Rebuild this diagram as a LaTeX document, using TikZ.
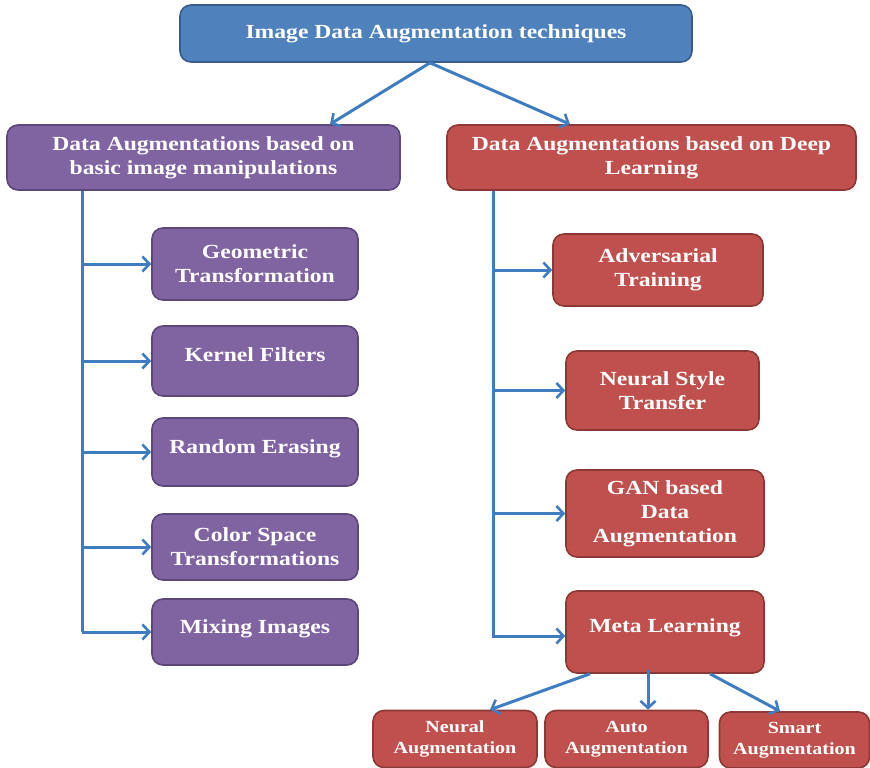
\documentclass[tikz,border=0pt]{standalone}
\usepackage{fontspec}
\setmainfont{Liberation Serif}[FakeStretch=1.18]
\usetikzlibrary{arrows.meta}
\definecolor{bfill}{HTML}{4F81BD}
\definecolor{bline}{HTML}{385D8A}
\definecolor{pfill}{HTML}{8064A2}
\definecolor{pline}{HTML}{5C4776}
\definecolor{rfill}{HTML}{C0504D}
\definecolor{rline}{HTML}{8C3836}
\definecolor{arrc}{HTML}{3F7CC0}
\begin{document}
\begin{tikzpicture}[x=1pt,y=-1pt,
  box/.style={rectangle,rounded corners=11pt,line width=1.6pt,text=white,align=center,
    inner sep=2pt,font=\fontsize{20}{24}\selectfont\bfseries},
  bluebox/.style={box,fill=bfill,draw=bline},
  purbox/.style={box,fill=pfill,draw=pline},
  redbox/.style={box,fill=rfill,draw=rline},
  smallred/.style={redbox,font=\fontsize{17}{21}\selectfont\bfseries},
  arr/.style={draw=arrc,line width=3pt,-{Straight Barb[length=7pt,width=15pt,line width=2.6pt]}},
  ln/.style={draw=arrc,line width=3pt}]
\useasboundingbox (0,0) rectangle (870,768);
\node[bluebox,minimum width=512pt,minimum height=57pt] (top) at (436,33.5) {Image Data Augmentation techniques};
\node[purbox,minimum width=393pt,minimum height=65pt] (L) at (203.5,157.5) {Data Augmentations based on\\basic image manipulations};
\node[redbox,minimum width=409pt,minimum height=65pt] (R) at (651.5,157.5) {Data Augmentations based on Deep\\Learning};
\node[purbox,minimum width=206pt,minimum height=72pt] (g1) at (255,264) {Geometric\\Transformation};
\node[purbox,minimum width=206pt,minimum height=70pt,text depth=12pt] (g2) at (255,361) {Kernel Filters};
\node[purbox,minimum width=206pt,minimum height=68pt,text depth=10pt] (g3) at (255,452) {Random Erasing};
\node[purbox,minimum width=206pt,minimum height=66pt] (g4) at (255,547) {Color Space\\Transformations};
\node[purbox,minimum width=206pt,minimum height=66pt,text depth=11pt] (g5) at (255,632) {Mixing Images};
\node[redbox,minimum width=210pt,minimum height=72pt] (d1) at (658,270) {Adversarial\\Training};
\node[redbox,minimum width=193pt,minimum height=79pt] (d2) at (662.5,390.5) {Neural Style\\Transfer};
\node[redbox,minimum width=198pt,minimum height=87pt] (d3) at (665,513.5) {GAN based\\Data\\Augmentation};
\node[redbox,minimum width=198pt,minimum height=82pt,text depth=13pt] (d4) at (665,632) {Meta Learning};
\node[smallred,minimum width=164pt,minimum height=57pt] (b1) at (455,739) {Neural\\Augmentation};
\node[smallred,minimum width=163pt,minimum height=57pt] (b2) at (626.5,739) {Auto\\Augmentation};
\node[smallred,minimum width=150pt,minimum height=56pt] (b3) at (794.5,740) {Smart\\Augmentation};
% top arrows
\draw[arr] ([xshift=-6pt]top.south) -- ([xshift=126.5pt]L.north);
\draw[arr] ([xshift=-6pt]top.south) -- ([xshift=-81.5pt]R.north);
% left trunk
\coordinate (lt) at ([xshift=-121.5pt]L.south);
\coordinate (lend) at (lt |- g5.west);
\draw[ln] (lt) -- (lend);
\draw[arr] (lt |- g1.west) -- (g1.west);
\draw[arr] (lt |- g2.west) -- (g2.west);
\draw[arr] (lt |- g3.west) -- (g3.west);
\draw[arr] (lt |- g4.west) -- (g4.west);
\draw[arr] (lend) -- (g5.west);
% right trunk
\coordinate (rt) at ([xshift=-158.5pt]R.south);
\draw[arr] (rt |- d1.west) -- (d1.west);
\draw[arr] (rt |- d2.west) -- (d2.west);
\draw[arr] (rt |- d3.west) -- (d3.west);
\draw[arr] (rt) |- ([yshift=-4pt]d4.west);
% meta arrows
\draw[arr] ([xshift=-75pt]d4.south) -- ([xshift=35pt]b1.north);
\draw[arr] ([xshift=-17pt,yshift=4pt]d4.south) -- ([xshift=21.5pt]b2.north);
\draw[arr] ([xshift=45pt]d4.south) -- ([xshift=-14.5pt]b3.north);
\end{tikzpicture}
\end{document}
